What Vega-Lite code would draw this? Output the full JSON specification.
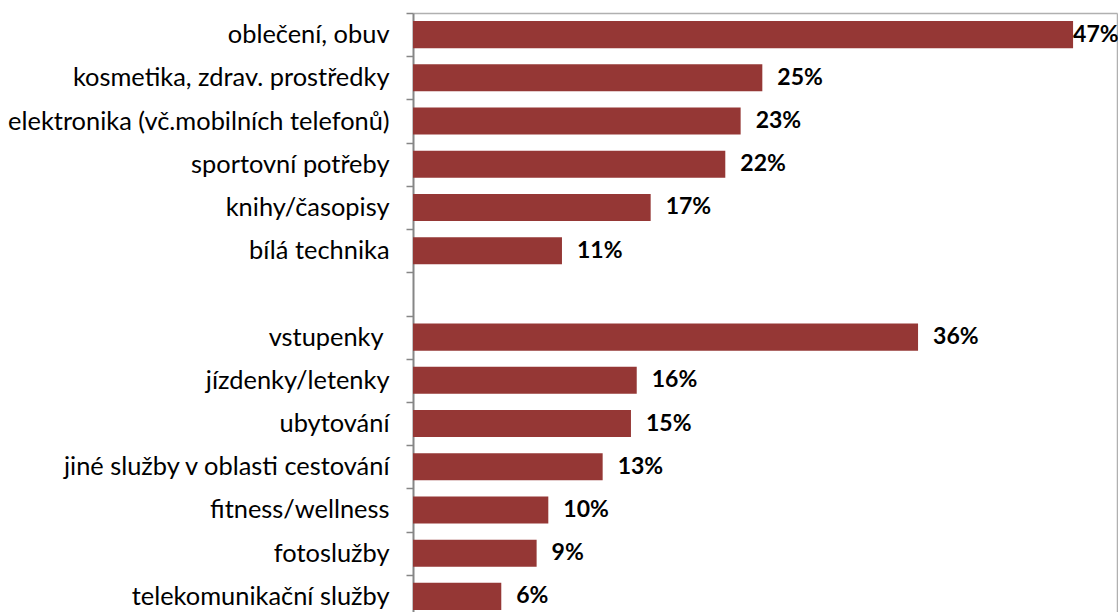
{
  "$schema": "https://vega.github.io/schema/vega-lite/v6.json",
  "width": 704,
  "height": 599,
  "autosize": {"type": "none"},
  "padding": {"left": 413, "top": 13, "right": 1, "bottom": 0},
  "background": "white",
  "config": {"view": {"stroke": null}, "font": "Lato"},
  "data": {
    "values": [
      {"item": "oblečení, obuv", "value": 0.4688},
      {"item": "kosmetika, zdrav. prostředky", "value": 0.2481},
      {"item": "elektronika (vč.mobilních telefonů)", "value": 0.2327},
      {"item": "sportovní potřeby", "value": 0.2218},
      {"item": "knihy/časopisy", "value": 0.1688},
      {"item": "bílá technika", "value": 0.1058},
      {"item": "vstupenky\u00a0\u200b", "value": 0.3587},
      {"item": "jízdenky/letenky", "value": 0.1589},
      {"item": "ubytování", "value": 0.1548},
      {"item": "jiné služby v oblasti cestování", "value": 0.1347},
      {"item": "fitness/wellness", "value": 0.0961},
      {"item": "fotoslužby", "value": 0.0878},
      {"item": "telekomunikační služby", "value": 0.0627}
    ]
  },
  "encoding": {
    "y": {
      "field": "item",
      "type": "nominal",
      "scale": {
        "domain": ["oblečení, obuv", "kosmetika, zdrav. prostředky", "elektronika (vč.mobilních telefonů)", "sportovní potřeby", "knihy/časopisy", "bílá technika", "", "vstupenky\u00a0\u200b", "jízdenky/letenky", "ubytování", "jiné služby v oblasti cestování", "fitness/wellness", "fotoslužby", "telekomunikační služby"],
        "range": [0, 605],
        "paddingInner": 0,
        "paddingOuter": 0
      },
      "axis": {
        "title": null,
        "tickBand": "extent",
        "tickSize": 7,
        "tickColor": "#868686",
        "tickWidth": 1.5,
        "domainColor": "#868686",
        "domainWidth": 2,
        "labelFont": "Lato",
        "labelFontSize": 25.4,
        "labelColor": "black",
        "labelPadding": 17,
        "labelLimit": 600,
        "labelOverlap": false,
        "grid": false
      }
    },
    "x": {
      "field": "value",
      "type": "quantitative",
      "scale": {"domain": [0, 0.5], "nice": false},
      "axis": {
        "orient": "top",
        "title": null,
        "values": [0.5],
        "labels": false,
        "ticks": false,
        "domain": true,
        "domainColor": "#b0b0b0",
        "domainWidth": 1.5,
        "grid": true,
        "gridColor": "#b0b0b0",
        "gridWidth": 1.5
      }
    }
  },
  "layer": [
    {
      "mark": {"type": "bar", "color": "#953735", "height": {"band": 0.626}}
    },
    {
      "transform": [{"filter": "datum.value < 0.45"}],
      "mark": {"type": "text", "align": "left", "baseline": "middle", "dx": 15, "font": "Lato", "fontSize": 23, "fontWeight": "bold", "color": "black"},
      "encoding": {"text": {"field": "value", "type": "quantitative", "format": ".0%"}}
    },
    {
      "transform": [{"filter": "datum.value >= 0.45"}],
      "mark": {"type": "text", "align": "left", "baseline": "middle", "dx": 0, "font": "Lato", "fontSize": 23, "fontWeight": "bold", "color": "black"},
      "encoding": {"text": {"field": "value", "type": "quantitative", "format": ".0%"}}
    }
  ]
}
